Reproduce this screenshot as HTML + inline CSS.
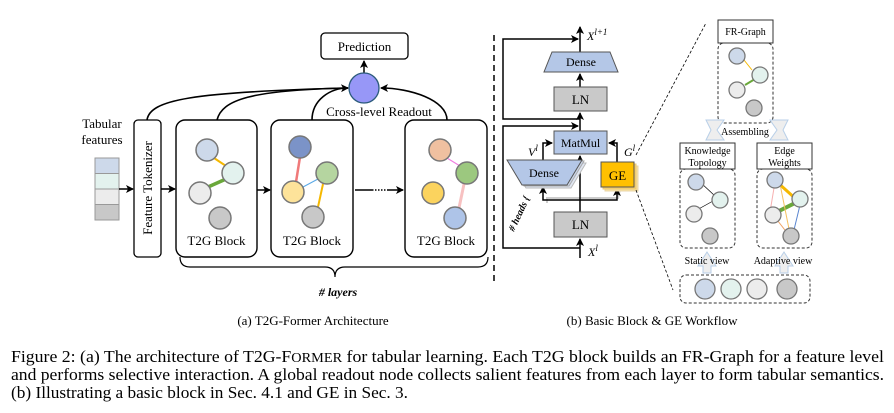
<!DOCTYPE html>
<html><head><meta charset="utf-8"><style>
html,body{margin:0;padding:0;background:#fff;}
svg{display:block;font-family:"Liberation Serif",serif;}
</style></head><body>
<svg width="894" height="413" viewBox="0 0 894 413" xmlns="http://www.w3.org/2000/svg">
<defs>
<marker id="ah" markerWidth="8" markerHeight="8" refX="7" refY="4" orient="auto" markerUnits="userSpaceOnUse"><path d="M0,0 L8,4 L0,8 L2,4 z" fill="#000"/></marker>
</defs>
<!-- (a) -->
<rect x="321" y="33" width="87" height="26" rx="4" fill="#fff" stroke="#000" stroke-width="1.3"/>
<text x="364.5" y="51" font-size="13" text-anchor="middle">Prediction</text>
<line x1="364" y1="73" x2="364" y2="61" stroke="#000" stroke-width="1.5" marker-end="url(#ah)"/>
<circle cx="364" cy="88" r="15" fill="#9797f7" stroke="#2a5a7a" stroke-width="1.3"/>
<g fill="none" stroke="#000" stroke-width="1.6">
<path d="M147,120 C150,100 190,92 348,88" marker-end="url(#ah)"/>
<path d="M217,120 C222,100 250,90 348,88"/>
<path d="M312,120 C312,100 330,88 348,88"/>
<path d="M447,120 C447,100 410,88 381,88" marker-end="url(#ah)"/>
</g>
<text x="379" y="116" font-size="13" text-anchor="middle">Cross-level Readout</text>
<text x="102" y="128" font-size="13" text-anchor="middle">Tabular</text>
<text x="102" y="144" font-size="13" text-anchor="middle">features</text>
<g stroke="#999" stroke-width="1">
<rect x="95" y="158" width="24" height="15.5" fill="#cdd9ea"/>
<rect x="95" y="173.5" width="24" height="15.5" fill="#e3f2ee"/>
<rect x="95" y="189" width="24" height="15.5" fill="#ececec"/>
<rect x="95" y="204.5" width="24" height="15.5" fill="#c8c8c8"/>
</g>
<line x1="119" y1="189" x2="133" y2="189" stroke="#000" stroke-width="1.5" marker-end="url(#ah)"/>
<rect x="134" y="120" width="27" height="137" rx="4" fill="#fff" stroke="#000" stroke-width="1.3"/>
<text transform="translate(152,188) rotate(-90)" font-size="13" text-anchor="middle">Feature Tokenizer</text>
<line x1="161" y1="189" x2="175" y2="189" stroke="#000" stroke-width="1.5" marker-end="url(#ah)"/>
<line x1="257" y1="190" x2="270" y2="190" stroke="#000" stroke-width="1.5" marker-end="url(#ah)"/>
<line x1="355" y1="190" x2="372" y2="190" stroke="#000" stroke-width="1.5"/>
<line x1="372" y1="190" x2="388" y2="190" stroke="#000" stroke-width="1.5" stroke-dasharray="1.5,1.5"/>
<line x1="388" y1="190" x2="403" y2="190" stroke="#000" stroke-width="1.5" marker-end="url(#ah)"/>
<g fill="#fff" stroke="#000" stroke-width="1.4">
<rect x="176" y="120" width="81" height="137" rx="9"/>
<rect x="271" y="120" width="82" height="137" rx="9"/>
<rect x="405" y="120" width="82" height="137" rx="9"/>
</g>
<g font-size="13" text-anchor="middle">
<text x="216.5" y="245">T2G Block</text>
<text x="312" y="245">T2G Block</text>
<text x="446" y="245">T2G Block</text>
</g>
<line x1="214" y1="158" x2="226" y2="166" stroke="#f5b800" stroke-width="2"/>
<line x1="208" y1="187" x2="226" y2="179" stroke="#6aa83a" stroke-width="3.5"/>
<line x1="300" y1="157" x2="296" y2="182" stroke="#f07a7a" stroke-width="2.5"/>
<line x1="303" y1="187" x2="318" y2="179" stroke="#5aa9e6" stroke-width="1"/>
<line x1="323" y1="184" x2="318" y2="207" stroke="#f5b800" stroke-width="2"/>
<line x1="447" y1="158" x2="460" y2="166" stroke="#f07de0" stroke-width="1.2"/>
<line x1="464" y1="184" x2="459" y2="208" stroke="#f7c1c1" stroke-width="3"/>
<g stroke="#777" stroke-width="1.5">
<circle cx="207" cy="150" r="11" fill="#cdd9ea"/>
<circle cx="233" cy="173" r="11" fill="#e3f2ee"/>
<circle cx="200" cy="193" r="11" fill="#ececec"/>
<circle cx="220" cy="218" r="11" fill="#c8c8c8"/>
<circle cx="300" cy="147" r="11" fill="#7b93c8"/>
<circle cx="327" cy="173" r="11" fill="#b5d5a0"/>
<circle cx="293" cy="192" r="11" fill="#fde39a"/>
<circle cx="313" cy="217" r="11" fill="#c8c8c8"/>
<circle cx="440" cy="150" r="11" fill="#f0c0a0"/>
<circle cx="467" cy="173" r="11" fill="#9cc87f"/>
<circle cx="433" cy="193" r="11" fill="#fbd35e"/>
<circle cx="455" cy="218" r="11" fill="#aec4e8"/>
</g>
<path d="M180,257 Q180,267 190,267 L325,267 Q335,267 335,277 Q335,267 345,267 L478,267 Q488,267 488,257" fill="none" stroke="#000" stroke-width="1.2"/>
<text x="338" y="296" font-size="12" font-weight="bold" font-style="italic" text-anchor="middle"># layers</text>
<text x="313" y="325" font-size="13" text-anchor="middle">(a) T2G-Former Architecture</text>
<line x1="494" y1="35" x2="494" y2="285" stroke="#000" stroke-width="1.5" stroke-dasharray="6,4"/>
<!-- (b) -->
<polyline points="547,203 547,198 618,198 620,189" fill="none" stroke="#ccc" stroke-width="2"/>
<g fill="none" stroke="#000" stroke-width="1.5">
<line x1="580" y1="258" x2="580" y2="239" marker-end="url(#ah)"/>
<line x1="580" y1="212" x2="580" y2="156" marker-end="url(#ah)"/>
<line x1="580" y1="131" x2="580" y2="113" marker-end="url(#ah)"/>
<line x1="580" y1="87" x2="580" y2="74" marker-end="url(#ah)"/>
<line x1="580" y1="52" x2="580" y2="27" marker-end="url(#ah)"/>
<path d="M580,248 L503,248 L503,126 L578,126" marker-end="url(#ah)"/>
<path d="M580,119 L503,119 L503,39 L578,39" marker-end="url(#ah)"/>
<path d="M580,200 L543,200 L543,187" marker-end="url(#ah)"/>
<path d="M580,200 L617,200 L617,189" marker-end="url(#ah)"/>
<path d="M543,160 L543,143 L552,143" marker-end="url(#ah)"/>
<path d="M617,162 L617,143 L609,143" marker-end="url(#ah)"/>
</g>
<polygon points="511,163 586,163 571,188 526,188" fill="#dfe6f2" stroke="#bbb"/>
<polygon points="509,161 584,161 569,186 524,186" fill="#cbd6ea" stroke="#aaa"/>
<polygon points="507,160 582,160 567,185 522,185" fill="#b4c7e7" stroke="#555" stroke-width="1"/>
<text x="544" y="177" font-size="12" text-anchor="middle">Dense</text>
<rect x="605" y="166" width="33" height="25" fill="#fbe3a0" stroke="#e8d6a8"/>
<rect x="603" y="164" width="33" height="25" fill="#fcd36a" stroke="#e8c878"/>
<rect x="601" y="162" width="33" height="25" fill="#ffc000" stroke="#555"/>
<text x="617.5" y="180" font-size="13" text-anchor="middle">GE</text>
<polygon points="552,52 610,52 618,72 544,72" fill="#b4c7e7" stroke="#555"/>
<text x="581" y="66" font-size="12" text-anchor="middle">Dense</text>
<rect x="554" y="87" width="53" height="24" fill="#c9c9c9" stroke="#555"/>
<text x="580.5" y="104" font-size="13" text-anchor="middle">LN</text>
<rect x="554" y="131" width="53" height="23" fill="#b4c7e7" stroke="#555"/>
<text x="580.5" y="147" font-size="12" text-anchor="middle">MatMul</text>
<rect x="554" y="212" width="53" height="25" fill="#c9c9c9" stroke="#555"/>
<text x="580.5" y="229" font-size="13" text-anchor="middle">LN</text>
<text x="587" y="40" font-size="12" font-style="italic">X<tspan font-size="9" dy="-5">l+1</tspan></text>
<text x="588" y="256" font-size="12" font-style="italic">X<tspan font-size="9" dy="-5">l</tspan></text>
<text x="528" y="156" font-size="12" font-style="italic">V<tspan font-size="9" dy="-5">l</tspan></text>
<text x="624" y="156" font-size="12" font-style="italic">G<tspan font-size="9" dy="-5">l</tspan></text>
<text transform="translate(514,232) rotate(-65)" font-size="10" font-weight="bold" font-style="italic"># heads {</text>
<line x1="636" y1="155" x2="706" y2="23" stroke="#000" stroke-dasharray="3,2" stroke-width="0.8"/>
<line x1="636" y1="190" x2="673" y2="290" stroke="#000" stroke-dasharray="3,2" stroke-width="0.8"/>
<rect x="718" y="43" width="55" height="80" rx="6" fill="none" stroke="#333" stroke-dasharray="3,2"/>
<rect x="718" y="20" width="55" height="23" fill="#fff" stroke="#333"/>
<text x="745.5" y="35" font-size="10" text-anchor="middle">FR-Graph</text>
<line x1="744" y1="60" x2="752" y2="70" stroke="#f5b800"/>
<line x1="745" y1="85" x2="755" y2="79" stroke="#6aa83a" stroke-width="2"/>
<g stroke="#777" stroke-width="1.3">
<circle cx="737" cy="56" r="8" fill="#cdd9ea"/>
<circle cx="760" cy="75" r="8" fill="#e3f2ee"/>
<circle cx="737" cy="90" r="8" fill="#ececec"/>
<circle cx="754" cy="108" r="8" fill="#c8c8c8"/>
</g>
<polygon points="706,120 724,120 717,130 724,140 706,140 711,130" fill="#eee" stroke="#b8cfe8"/>
<polygon points="770,120 788,120 783,130 788,140 770,140 777,130" fill="#eee" stroke="#b8cfe8"/>
<text x="745" y="135" font-size="10" text-anchor="middle">Assembling</text>
<rect x="680" y="169" width="55" height="79" rx="6" fill="none" stroke="#333" stroke-dasharray="3,2"/>
<rect x="680" y="143" width="55" height="26" fill="#fff" stroke="#333"/>
<text x="707.5" y="154" font-size="10" text-anchor="middle">Knowledge</text>
<text x="707.5" y="166" font-size="10" text-anchor="middle">Topology</text>
<line x1="700" y1="182" x2="715" y2="196" stroke="#000" stroke-width="0.7"/>
<line x1="695" y1="211" x2="713" y2="201" stroke="#000" stroke-width="0.7"/>
<g stroke="#777" stroke-width="1.3">
<circle cx="696" cy="182" r="8" fill="#cdd9ea"/>
<circle cx="720" cy="200" r="8" fill="#e3f2ee"/>
<circle cx="694" cy="214" r="8" fill="#ececec"/>
<circle cx="710" cy="236" r="8" fill="#c8c8c8"/>
</g>
<rect x="757" y="169" width="55" height="79" rx="6" fill="none" stroke="#333" stroke-dasharray="3,2"/>
<rect x="757" y="143" width="55" height="26" fill="#fff" stroke="#333"/>
<text x="784.5" y="154" font-size="10" text-anchor="middle">Edge</text>
<text x="784.5" y="166" font-size="10" text-anchor="middle">Weights</text>
<line x1="777" y1="182" x2="797" y2="200" stroke="#f5b800" stroke-width="3"/>
<line x1="775" y1="213" x2="795" y2="203" stroke="#6aa83a" stroke-width="4"/>
<line x1="775" y1="182" x2="770" y2="212" stroke="#f7b0b0"/>
<line x1="780" y1="184" x2="790" y2="234" stroke="#f5c060"/>
<line x1="800" y1="205" x2="793" y2="234" stroke="#5a86d0"/>
<line x1="774" y1="216" x2="788" y2="234" stroke="#f0a060"/>
<g stroke="#777" stroke-width="1.3">
<circle cx="775" cy="180" r="8" fill="#cdd9ea"/>
<circle cx="800" cy="199" r="8" fill="#e3f2ee"/>
<circle cx="773" cy="215" r="8" fill="#ececec"/>
<circle cx="791" cy="236" r="8" fill="#c8c8c8"/>
</g>
<polygon points="703,273 703,266 698,266 707,252 716,266 711,266 711,273" fill="#eee" stroke="#b8cfe8"/>
<polygon points="780,273 780,266 775,266 784,252 793,266 788,266 788,273" fill="#eee" stroke="#b8cfe8"/>
<text x="707" y="264" font-size="10" text-anchor="middle">Static view</text>
<text x="783" y="264" font-size="10" text-anchor="middle">Adaptive view</text>
<rect x="680" y="275" width="130" height="28" rx="6" fill="none" stroke="#333" stroke-dasharray="3,2"/>
<g stroke="#777" stroke-width="1.3">
<circle cx="705" cy="289" r="10" fill="#cdd9ea"/>
<circle cx="731" cy="289" r="10" fill="#e3f2ee"/>
<circle cx="757" cy="289" r="10" fill="#ececec"/>
<circle cx="787" cy="289" r="10" fill="#c8c8c8"/>
</g>
<text x="652" y="325" font-size="13" text-anchor="middle">(b) Basic Block &amp; GE Workflow</text>
<g font-size="16.8">
<text x="11" y="362" textLength="873" lengthAdjust="spacingAndGlyphs">Figure 2: (a) The architecture of T2G-F<tspan font-size="13.5">ORMER</tspan> for tabular learning. Each T2G block builds an FR-Graph for a feature level</text>
<text x="11" y="380" textLength="873" lengthAdjust="spacingAndGlyphs">and performs selective interaction. A global readout node collects salient features from each layer to form tabular semantics.</text>
<text x="11" y="398" textLength="397" lengthAdjust="spacingAndGlyphs">(b) Illustrating a basic block in Sec. 4.1 and GE in Sec. 3.</text>
</g>
</svg>
</body></html>
